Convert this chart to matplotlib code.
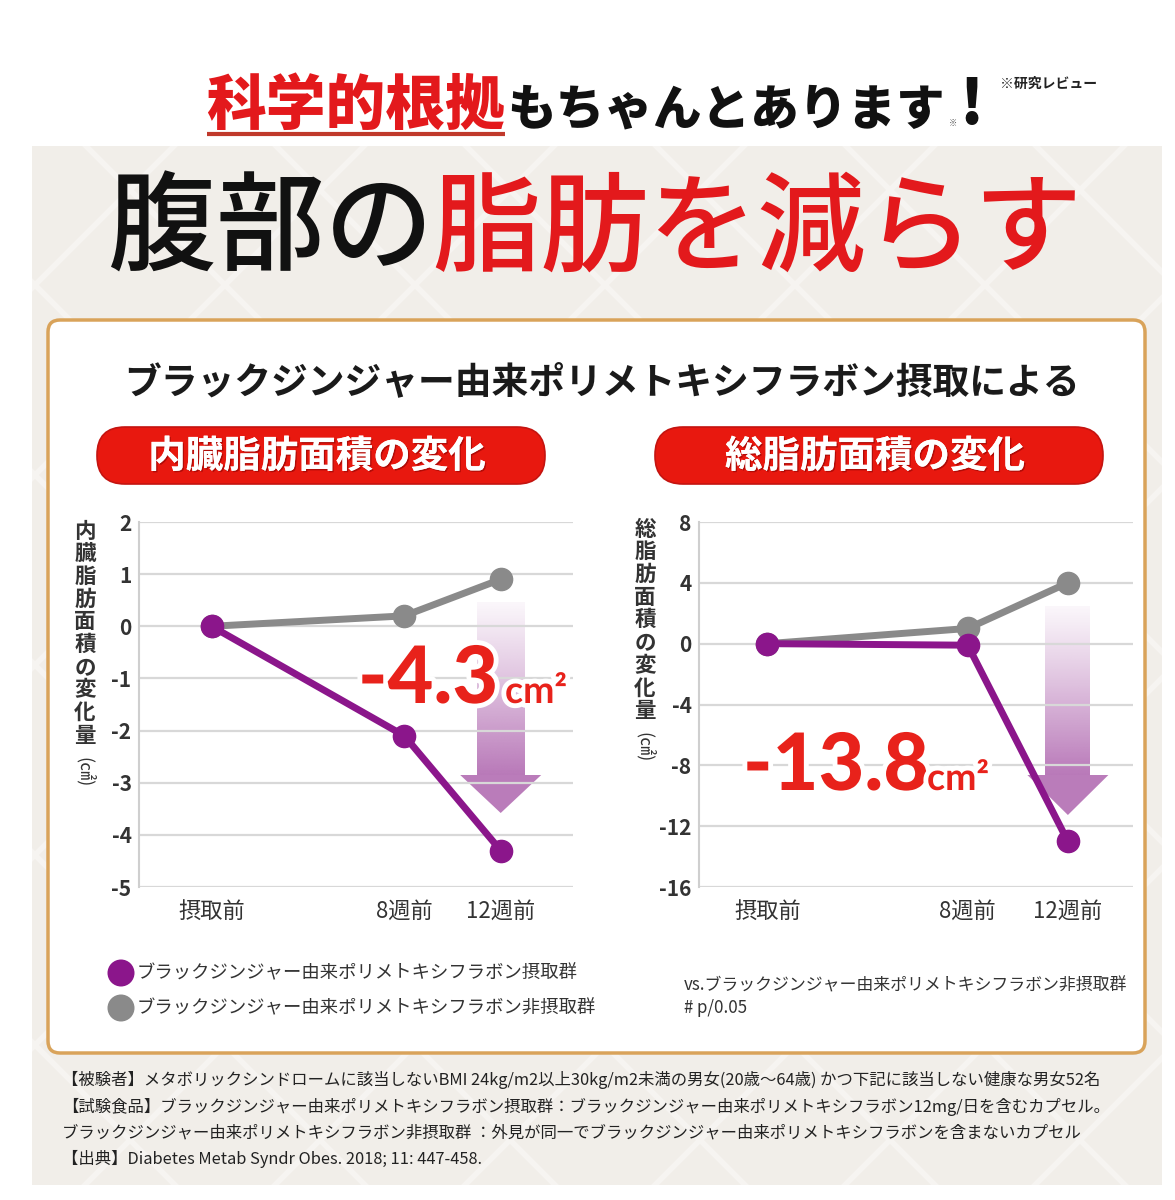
import matplotlib
matplotlib.use('Agg')
import matplotlib.pyplot as plt
from matplotlib.patches import FancyBboxPatch, Rectangle, Polygon, Circle
from matplotlib.colors import to_rgb
import matplotlib.patheffects as pe
import numpy as np

JP = ['Noto Sans CJK JP', 'DejaVu Sans']
plt.rcParams['font.family'] = JP
plt.rcParams['axes.unicode_minus'] = False

# ---------------- data ----------------
categories = ['摂取前', '8週前', '12週前']
weeks = [0, 8, 12]
visceral_treat = [0, -2.1, -4.3]
visceral_ctrl = [0, 0.2, 0.9]
total_treat = [0, -0.1, -13.0]
total_ctrl = [0, 1.0, 4.0]
visceral_ticks = [2, 1, 0, -1, -2, -3, -4, -5]
total_ticks = [8, 4, 0, -4, -8, -12, -16]
visceral_ylabel = '内臓脂肪面積の変化量'
total_ylabel = '総脂肪面積の変化量'
unit_label = '(㎠)'
visceral_change = '-4.3'
total_change = '-13.8'
change_unit = 'cm²'
legend_labels = ['ブラックジンジャー由来ポリメトキシフラボン摂取群',
                 'ブラックジンジャー由来ポリメトキシフラボン非摂取群']
note_lines = ['vs.ブラックジンジャー由来ポリメトキシフラボン非摂取群', '# p/0.05']
header_red = '科学的根拠'
header_black = 'もちゃんとあります'
header_note = '※研究レビュー'
title_black = '腹部の'
title_red = '脂肪を減らす'
subtitle = 'ブラックジンジャー由来ポリメトキシフラボン摂取による'
panel_titles = ['内臓脂肪面積の変化', '総脂肪面積の変化']
footnotes = [
    '【被験者】メタボリックシンドロームに該当しないBMI 24kg/m2以上30kg/m2未満の男女(20歳～64歳) かつ下記に該当しない健康な男女52名',
    '【試験食品】ブラックジンジャー由来ポリメトキシフラボン摂取群：ブラックジンジャー由来ポリメトキシフラボン12mg/日を含むカプセル。',
    'ブラックジンジャー由来ポリメトキシフラボン非摂取群 ：外見が同一でブラックジンジャー由来ポリメトキシフラボンを含まないカプセル',
    '【出典】Diabetes Metab Syndr Obes. 2018; 11: 447-458.',
]

# ---------------- styles ----------------
RED = '#e3191c'
PURPLE = '#8b168b'
GREY = '#8a8a8a'
BEIGE = '#f1eee9'
ARROW = '#a553a5'
W, H = 1175, 1200

fig = plt.figure(figsize=(W / 100, H / 100), dpi=100)
fig.patch.set_facecolor('white')

bg = fig.add_axes([0, 0, 1, 1], zorder=0)
bg.axis('off')

top = fig.add_axes([0, 0, 1, 1], zorder=5)
top.set_xlim(0, W)
top.set_ylim(H, 0)
top.axis('off')
top.patch.set_alpha(0)


def rect_px(x0, x1, ytop, ybot):
    return [x0 / W, 1 - ybot / H, (x1 - x0) / W, (ybot - ytop) / H]


# beige background with faint diamond lattice
beige = Rectangle((32, 146), 1130, 1039, facecolor=BEIGE, edgecolor='none', zorder=0)
bg.add_patch(beige)
for c in np.arange(-1200, 2400, 190):
    l1, = bg.plot([c, c + 1300], [0, 1300], color='#f6f4f1', lw=4, zorder=0.5)
    l2, = bg.plot([c, c - 1300], [0, 1300], color='#f6f4f1', lw=4, zorder=0.5)
    l1.set_clip_path(beige)
    l2.set_clip_path(beige)

# header
bg.text(505, 124, header_red, ha='right', va='baseline', fontsize=43,
        fontweight='heavy', color=RED)
bg.plot([207, 505], [134, 134], color='#c0392b', lw=3, solid_capstyle='butt')
bg.text(507, 124, header_black, ha='left', va='baseline', fontsize=35,
        fontweight='heavy', color='#111111')
bg.text(953, 126, '※', ha='center', va='baseline', fontsize=6, color='#555555')
bg.text(959, 124, '!', ha='left', va='baseline', fontsize=44,
        fontweight='heavy', color='#111111')
bg.text(1000, 84, header_note, ha='left', va='center', fontsize=10,
        fontweight='bold', color='#222222')

# big title
bg.text(108, 232, title_black, ha='left', va='center', fontsize=78,
        fontweight='medium', color='#111111')
bg.text(432, 232, title_red, ha='left', va='center', fontsize=78,
        fontweight='medium', color=RED)

# white panel
panel = FancyBboxPatch((48, 320), 1097, 733, boxstyle='round,pad=0,rounding_size=12',
                       facecolor='white', edgecolor='#d9a35a', lw=2.5, zorder=1)
bg.add_patch(panel)

bg.text(602, 383, subtitle, ha='center', va='center', fontsize=26.5,
        fontweight='bold', color='#1a1a1a', zorder=2)

# red pills
for (x0, x1), txt in zip([(97, 545), (655, 1103)], panel_titles):
    pill = FancyBboxPatch((x0, 427), x1 - x0, 57,
                          boxstyle='round,pad=0,rounding_size=28',
                          facecolor='#e8180f', edgecolor='#c41410', lw=1.2, zorder=2)
    bg.add_patch(pill)
    bg.text((x0 + x1) / 2 - 4, 456, txt, ha='center', va='center', fontsize=27,
            fontweight='bold', color='white', zorder=3,
            path_effects=[pe.withSimplePatchShadow(offset=(1, -1), shadow_rgbFace='#7a0000', alpha=0.5),
                          pe.Normal()])


def draw_arrow(xc, ytop, yhead, ytip, shaft_w, head_w):
    n = 200
    t = np.linspace(0, 1, n)[:, None]
    img = np.zeros((n, 2, 4))
    img[..., :3] = to_rgb(ARROW)
    img[..., 3] = 0.05 + 0.73 * t ** 1.1
    bg.imshow(img, extent=(xc - shaft_w / 2, xc + shaft_w / 2, yhead + 0.5, ytop),
              origin='upper', aspect='auto', interpolation='bilinear', zorder=2)
    head = Polygon([(xc - head_w / 2, yhead), (xc + head_w / 2, yhead), (xc, ytip)],
                   closed=True, facecolor=ARROW, edgecolor='none', alpha=0.76, zorder=2)
    bg.add_patch(head)


def chart(rect, treat, ctrl, ticks, xlim, arrow):
    ax = fig.add_axes(rect, zorder=2)
    ax.set_facecolor('none')
    ax.set_ylim(min(ticks), max(ticks))
    ax.set_yticks(ticks)
    ax.set_yticklabels([str(t) for t in ticks])
    ax.set_xlim(*xlim)
    ax.set_xticks(weeks)
    ax.set_xticklabels(categories)
    ax.grid(axis='y', color='#d8d8d8', lw=1.6)
    ax.set_axisbelow(True)
    for s in ['top', 'right', 'bottom']:
        ax.spines[s].set_visible(False)
    ax.spines['left'].set_color('#cfcfcf')
    ax.spines['left'].set_linewidth(1.5)
    ax.tick_params(axis='y', length=0, pad=5, labelsize=15, labelcolor='#333333')
    ax.tick_params(axis='x', length=0, pad=9, labelsize=16, labelcolor='#333333')
    for lab in ax.get_yticklabels():
        lab.set_fontweight('bold')
    disp = ax.transData.transform((weeks[-1], 0))
    xc = disp[0] / fig.dpi * 100
    draw_arrow(xc, *arrow)
    ax.plot(weeks, ctrl, color=GREY, lw=5, marker='o', ms=16, zorder=3, clip_on=False)
    ax.plot(weeks, treat, color=PURPLE, lw=5, marker='o', ms=16, zorder=4, clip_on=False)
    return ax


ax1 = chart(rect_px(138.5, 573, 522, 887), visceral_treat, visceral_ctrl,
            visceral_ticks, (-3.03, 15.0), (603, 775, 813, 48, 81))
ax2 = chart(rect_px(698.5, 1133, 522, 887), total_treat, total_ctrl,
            total_ticks, (-2.75, 14.6), (607, 775, 815, 45, 81))


def vlabel(x, ytop, s, step):
    for i, ch in enumerate(s):
        bg.text(x, ytop + i * step, ch, ha='center', va='center', fontsize=15.5,
                fontweight='bold', color='#333333', zorder=3)
    bg.text(x, ytop + len(s) * step + 14, unit_label, ha='center', va='center',
            fontsize=13, rotation=-90, color='#333333', zorder=3)


vlabel(85, 531, visceral_ylabel, 22.7)
vlabel(645, 529, total_ylabel, 22.7)

# big red change annotations
stroke = [pe.withStroke(linewidth=7, foreground='white')]
for (x, y, xu), val in zip([(358, 703, 505), (743, 790, 927)], [visceral_change, total_change]):
    top.text(x, y, val, ha='left', va='baseline', fontsize=57, family=['Lato', 'DejaVu Sans'],
             fontweight='black', color='#e8221b', path_effects=stroke)
    top.text(xu, y, change_unit, ha='left', va='baseline', fontsize=27,
             family=['Lato', 'DejaVu Sans'], fontweight='bold', color='#e8221b',
             path_effects=stroke)

# legend
for yy, col, lab in zip([973, 1008], [PURPLE, GREY], legend_labels):
    bg.add_patch(Circle((121, yy), 13.5, facecolor=col, edgecolor='none', zorder=3))
    bg.text(137, yy, lab, ha='left', va='center', fontsize=13.2, color='#333333', zorder=3)

for yy, line in zip([985, 1008], note_lines):
    bg.text(684, yy, line, ha='left', va='center', fontsize=12.2, color='#333333', zorder=3)

# footnotes
for yy, line in zip([1080, 1107, 1133, 1159], footnotes):
    bg.text(62, yy, line, ha='left', va='center', fontsize=11.8, color='#222222', zorder=3)

bg.set_xlim(0, W)
bg.set_ylim(H, 0)

fig.savefig('out.png', dpi=100, facecolor='white')
